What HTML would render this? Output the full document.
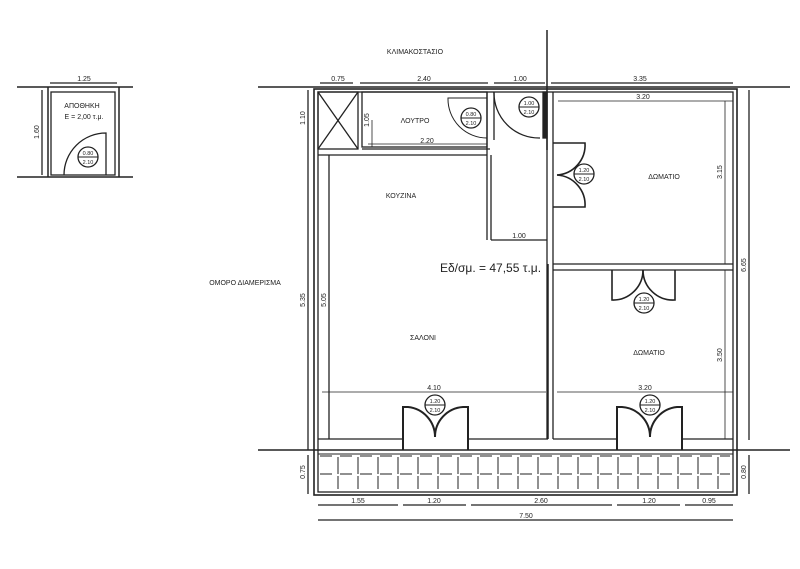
<!DOCTYPE html>
<html><head><meta charset="utf-8"><style>html,body{margin:0;padding:0;background:#fff}svg{display:block}text{font-family:"Liberation Sans",sans-serif;fill:#222}</style></head><body>
<svg width="800" height="569" viewBox="0 0 800 569" xmlns="http://www.w3.org/2000/svg">
<g stroke="#222" fill="none" stroke-width="1.3">
<line x1="258" y1="87" x2="790" y2="87" stroke-width="1.5"/>
<line x1="258" y1="450" x2="790" y2="450" stroke-width="1.5"/>
<line x1="547" y1="30" x2="547" y2="150" stroke-width="1.5"/>
<rect x="314" y="89" width="423" height="406" stroke-width="1.6"/>
<rect x="318" y="92" width="415" height="400"/>
<line x1="329" y1="155" x2="329" y2="439"/>
<line x1="308" y1="90" x2="308" y2="450"/>
<line x1="308" y1="455" x2="308" y2="494"/>
<line x1="749" y1="90" x2="749" y2="440"/>
<line x1="749" y1="455" x2="749" y2="494"/>
<rect x="318" y="92" width="40" height="57"/>
<line x1="318" y1="92" x2="358" y2="149"/><line x1="358" y1="92" x2="318" y2="149"/>
<rect x="362" y="92" width="125" height="55"/>
<line x1="318" y1="155" x2="487" y2="155"/>
<line x1="362" y1="149" x2="490" y2="149"/>
<line x1="487" y1="92" x2="487" y2="240"/>
<line x1="491" y1="155" x2="491" y2="240"/>
<line x1="491" y1="240" x2="547" y2="240"/>
<line x1="372" y1="120" x2="372" y2="147" stroke-width="0.8"/>
<line x1="368" y1="144" x2="487" y2="144" stroke-width="0.8"/>
<path d="M448 98 H487 V138 A39 39 0 0 1 448 98 Z" stroke-width="1"/>
<path d="M494 92 V140" /><path d="M494 92 A45 45 0 0 0 540 138" />
<rect x="543" y="92" width="4" height="46" fill="#222"/>
<line x1="547" y1="92" x2="547" y2="439"/><line x1="553" y1="92" x2="553" y2="439"/>
<line x1="553" y1="264" x2="733" y2="264"/><line x1="553" y1="270" x2="733" y2="270"/>
<line x1="558" y1="101" x2="733" y2="101" stroke-width="0.8"/>
<line x1="725" y1="101" x2="725" y2="264" stroke-width="0.8"/>
<line x1="725" y1="270" x2="725" y2="439" stroke-width="0.8"/>
<path d="M553 143 H585 A30 30 0 0 1 557 175" stroke-width="1.6"/>
<path d="M553 207 H585 A30 30 0 0 0 557 175" stroke-width="1.6"/>
<path d="M612 270 V300 A30 30 0 0 0 643 270" stroke-width="1.6"/>
<path d="M675 270 V300 A30 30 0 0 1 643 270" stroke-width="1.6"/>
<line x1="318" y1="439" x2="403" y2="439"/><line x1="468" y1="439" x2="548" y2="439"/>
<line x1="553" y1="439" x2="617" y2="439"/><line x1="682" y1="439" x2="733" y2="439"/>
<line x1="548" y1="264" x2="548" y2="439" stroke-width="1.5"/>
<line x1="322" y1="392" x2="546" y2="392" stroke-width="0.8"/>
<line x1="557" y1="392" x2="733" y2="392" stroke-width="0.8"/>
<path d="M403 450 V407 H408 A30 30 0 0 1 435 437" stroke-width="2"/>
<path d="M468 450 V407 H463 A30 30 0 0 0 435 437" stroke-width="2"/>
<path d="M617 450 V407 H622 A30 30 0 0 1 650 437" stroke-width="2"/>
<path d="M682 450 V407 H677 A30 30 0 0 0 650 437" stroke-width="2"/>
<g stroke-width="1">
<line x1="318" y1="454" x2="733" y2="454"/>
<line x1="320" y1="474" x2="730" y2="474" stroke-dasharray="12,8"/>
<line x1="320" y1="456" x2="730" y2="456" stroke-dasharray="12,8"/>
</g>
<line x1="318" y1="505" x2="398" y2="505"/><line x1="403" y1="505" x2="466" y2="505"/>
<line x1="471" y1="505" x2="612" y2="505"/><line x1="617" y1="505" x2="680" y2="505"/>
<line x1="685" y1="505" x2="733" y2="505"/>
<line x1="318" y1="520" x2="733" y2="520"/>
<line x1="320" y1="83" x2="353" y2="83"/><line x1="360" y1="83" x2="488" y2="83"/>
<line x1="494" y1="83" x2="545" y2="83"/><line x1="551" y1="83" x2="733" y2="83"/>
<line x1="17" y1="87" x2="133" y2="87" stroke-width="1.5"/>
<line x1="17" y1="177" x2="133" y2="177" stroke-width="1.5"/>
<line x1="48" y1="87" x2="48" y2="177" stroke-width="1.5"/>
<line x1="119" y1="87" x2="119" y2="177" stroke-width="1.5"/>
<rect x="51" y="92" width="64" height="83"/>
<line x1="42" y1="90" x2="42" y2="175"/>
<line x1="50" y1="83" x2="117" y2="83"/>
<path d="M64 175 A42 42 0 0 1 106 133 V175"/>
</g>
<g stroke="#222" stroke-width="1">
<path d="M338 457V474M358 457V474M378 457V474M398 457V474M418 457V474M438 457V474M458 457V474M478 457V474M498 457V474M518 457V474M538 457V474M558 457V474M578 457V474M598 457V474M618 457V474M638 457V474M658 457V474M678 457V474M698 457V474M718 457V474"/>
<path d="M338 476V489M358 476V489M378 476V489M398 476V489M418 476V489M438 476V489M458 476V489M478 476V489M498 476V489M518 476V489M538 476V489M558 476V489M578 476V489M598 476V489M618 476V489M638 476V489M658 476V489M678 476V489M698 476V489M718 476V489"/>
</g>
<g stroke="#222" fill="#fff" stroke-width="1.3">
<circle cx="471" cy="118" r="10"/><circle cx="529" cy="107" r="10"/>
<circle cx="584" cy="174" r="10"/><circle cx="644" cy="303" r="10"/>
<circle cx="435" cy="405" r="10"/><circle cx="650" cy="405" r="10"/>
<circle cx="88" cy="157" r="10"/>
</g>
<g stroke="#222" stroke-width="1">
<path d="M461 118H481M519 107H539M574 174H594M634 303H654M425 405H445M640 405H660M78 157H98"/>
</g>
<g font-size="5.5" text-anchor="middle">
<text x="471" y="116">0.80</text><text x="471" y="125">2.10</text>
<text x="529" y="105">1.00</text><text x="529" y="114">2.10</text>
<text x="584" y="172">1.20</text><text x="584" y="181">2.10</text>
<text x="644" y="301">1.20</text><text x="644" y="310">2.10</text>
<text x="435" y="403">1.20</text><text x="435" y="412">2.10</text>
<text x="650" y="403">1.20</text><text x="650" y="412">2.10</text>
<text x="88" y="155">0.80</text><text x="88" y="164">2.10</text>
</g>
<g font-size="7" text-anchor="middle">
<text x="415" y="54">ΚΛΙΜΑΚΟΣΤΑΣΙΟ</text>
<text x="415" y="123">ΛΟΥΤΡΟ</text>
<text x="401" y="198">ΚΟΥΖΙΝΑ</text>
<text x="664" y="179">ΔΩΜΑΤΙΟ</text>
<text x="649" y="355">ΔΩΜΑΤΙΟ</text>
<text x="423" y="340">ΣΑΛΟΝΙ</text>
<text x="245" y="285">ΟΜΟΡΟ ΔΙΑΜΕΡΙΣΜΑ</text>
<text x="82" y="108">ΑΠΟΘΗΚΗ</text>
<text x="84" y="119">Ε = 2,00 τ.μ.</text>
<text x="338" y="81">0.75</text><text x="424" y="81">2.40</text>
<text x="520" y="81">1.00</text><text x="640" y="81">3.35</text>
<text x="643" y="99">3.20</text><text x="427" y="143">2.20</text>
<text x="519" y="238">1.00</text><text x="434" y="390">4.10</text>
<text x="645" y="390">3.20</text><text x="84" y="81">1.25</text>
<text x="358" y="503">1.55</text><text x="434" y="503">1.20</text>
<text x="541" y="503">2.60</text><text x="649" y="503">1.20</text>
<text x="709" y="503">0.95</text><text x="526" y="518">7.50</text>
</g>
<g font-size="7" text-anchor="middle">
<text transform="translate(305,118) rotate(-90)">1.10</text>
<text transform="translate(369,120) rotate(-90)">1.05</text>
<text transform="translate(305,300) rotate(-90)">5.35</text>
<text transform="translate(326,300) rotate(-90)">5.05</text>
<text transform="translate(305,472) rotate(-90)">0.75</text>
<text transform="translate(722,172) rotate(-90)">3.15</text>
<text transform="translate(722,355) rotate(-90)">3.50</text>
<text transform="translate(746,265) rotate(-90)">6.65</text>
<text transform="translate(746,472) rotate(-90)">0.80</text>
<text transform="translate(39,132) rotate(-90)">1.60</text>
</g>
<text x="440" y="272" font-size="12">Εδ/σμ. = 47,55 τ.μ.</text>
</svg>
</body></html>
